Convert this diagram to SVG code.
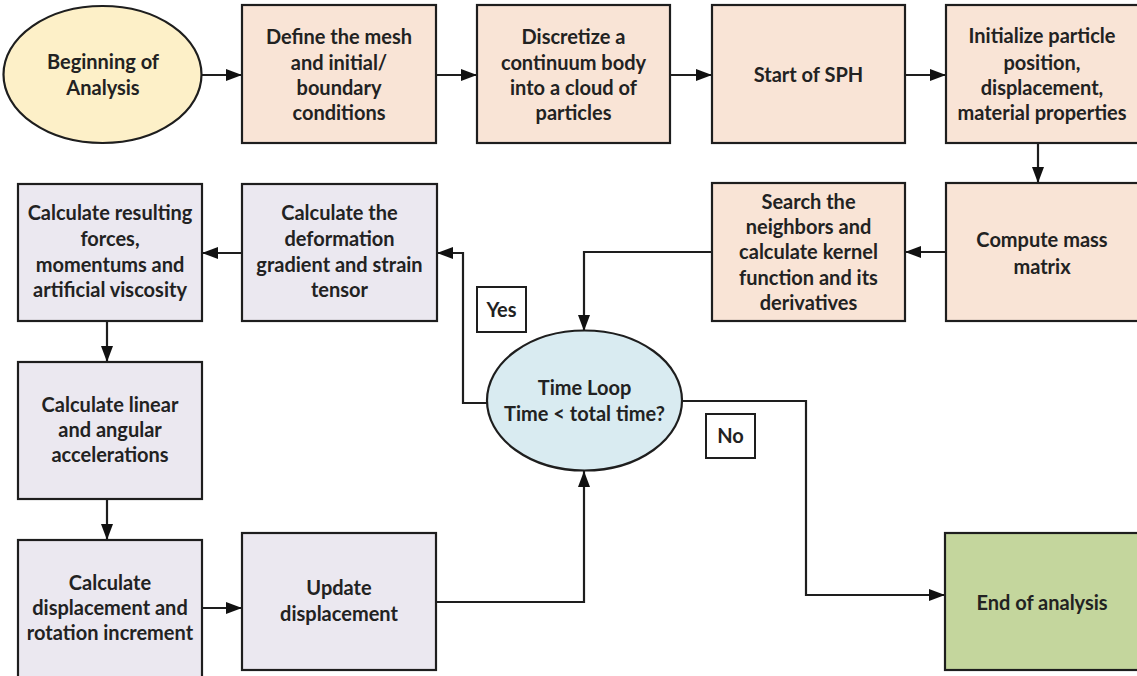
<svg xmlns="http://www.w3.org/2000/svg" width="1137" height="676" viewBox="0 0 1137 676">
<style>
  .n { stroke:#1e1e1e; stroke-width:2.2; }
  .peach { fill:#f9e4d6; }
  .lav { fill:#ebe8f0; }
  .yel { fill:#fdf0c8; }
  .blue { fill:#d9ebf1; }
  .green { fill:#c4d69d; }
  .lbl { fill:#ffffff; stroke:#1e1e1e; stroke-width:2; }
  text { font-family:"Lato","Liberation Sans",sans-serif; font-weight:bold; font-size:20px; fill:#222; text-anchor:middle; }
  .c { fill:none; stroke:#1e1e1e; stroke-width:2.2; }
</style>
<defs>
  <marker id="ah" viewBox="0 0 16 12" refX="16" refY="6" markerWidth="16" markerHeight="12" markerUnits="userSpaceOnUse" orient="auto">
    <path d="M0,0 L16,6 L0,12 Z" fill="#111"/>
  </marker>
</defs>
<rect width="1137" height="676" fill="#ffffff"/>

<g id="connectors">
  <line class="c" x1="202" y1="75" x2="242" y2="75" marker-end="url(#ah)"/>
  <line class="c" x1="436" y1="75" x2="477" y2="75" marker-end="url(#ah)"/>
  <line class="c" x1="670" y1="75" x2="712" y2="75" marker-end="url(#ah)"/>
  <line class="c" x1="905" y1="75" x2="946" y2="75" marker-end="url(#ah)"/>
  <line class="c" x1="1038" y1="143" x2="1038" y2="183" marker-end="url(#ah)"/>
  <line class="c" x1="946" y1="252" x2="905" y2="252" marker-end="url(#ah)"/>
  <polyline class="c" points="712,252 584,252 584,331" marker-end="url(#ah)"/>
  <polyline class="c" points="487,403 463,403 463,253 437,253" marker-end="url(#ah)"/>
  <line class="c" x1="242" y1="253" x2="202" y2="253" marker-end="url(#ah)"/>
  <line class="c" x1="107" y1="321" x2="107" y2="362" marker-end="url(#ah)"/>
  <line class="c" x1="107" y1="499" x2="107" y2="540" marker-end="url(#ah)"/>
  <line class="c" x1="202" y1="608" x2="242" y2="608" marker-end="url(#ah)"/>
  <polyline class="c" points="436,602 584,602 584,471" marker-end="url(#ah)"/>
  <polyline class="c" points="682,401 806,401 806,595 945,595" marker-end="url(#ah)"/>
</g>

<g id="beginning">
  <ellipse class="n yel" cx="102.5" cy="74.5" rx="99" ry="68.5"/>
  <text x="103" y="69">Beginning of</text>
  <text x="103" y="95">Analysis</text>
</g>
<g id="define">
  <rect class="n peach" x="242" y="5" width="194" height="138"/>
  <text x="339" y="44">Define the mesh</text>
  <text x="339" y="70">and initial/</text>
  <text x="339" y="95">boundary</text>
  <text x="339" y="120">conditions</text>
</g>
<g id="discretize">
  <rect class="n peach" x="477" y="5" width="193" height="138"/>
  <text x="573.5" y="44">Discretize a</text>
  <text x="573.5" y="70">continuum body</text>
  <text x="573.5" y="95">into a cloud of</text>
  <text x="573.5" y="120">particles</text>
</g>
<g id="start-sph">
  <rect class="n peach" x="712" y="5" width="193" height="138"/>
  <text x="808.5" y="82">Start of SPH</text>
</g>
<g id="initialize">
  <rect class="n peach" x="946" y="5" width="195" height="138"/>
  <text x="1042" y="43">Initialize particle</text>
  <text x="1042" y="70">position,</text>
  <text x="1042" y="95">displacement,</text>
  <text x="1042" y="120">material properties</text>
</g>
<g id="mass-matrix">
  <rect class="n peach" x="946" y="183" width="195" height="138"/>
  <text x="1042" y="247">Compute mass</text>
  <text x="1042" y="274">matrix</text>
</g>
<g id="search">
  <rect class="n peach" x="712" y="183" width="193" height="138"/>
  <text x="808.5" y="209">Search the</text>
  <text x="808.5" y="234">neighbors and</text>
  <text x="808.5" y="259">calculate kernel</text>
  <text x="808.5" y="285">function and its</text>
  <text x="808.5" y="310">derivatives</text>
</g>
<g id="time-loop">
  <ellipse class="n blue" cx="584.5" cy="400.5" rx="97.5" ry="70"/>
  <text x="584.5" y="395">Time Loop</text>
  <text x="584.5" y="421">Time &lt; total time?</text>
</g>
<g id="yes-label">
  <rect class="lbl" x="477" y="287" width="49" height="45"/>
  <text x="501.5" y="317">Yes</text>
</g>
<g id="no-label">
  <rect class="lbl" x="706" y="414" width="49" height="44"/>
  <text x="730.5" y="443">No</text>
</g>
<g id="deformation">
  <rect class="n lav" x="242" y="184" width="195" height="137"/>
  <text x="339.5" y="220">Calculate the</text>
  <text x="339.5" y="246">deformation</text>
  <text x="339.5" y="272">gradient and strain</text>
  <text x="339.5" y="297">tensor</text>
</g>
<g id="forces">
  <rect class="n lav" x="18" y="184" width="184" height="137"/>
  <text x="110" y="220">Calculate resulting</text>
  <text x="110" y="246">forces,</text>
  <text x="110" y="272">momentums and</text>
  <text x="110" y="297">artificial viscosity</text>
</g>
<g id="accelerations">
  <rect class="n lav" x="18" y="362" width="184" height="137"/>
  <text x="110" y="412">Calculate linear</text>
  <text x="110" y="437">and angular</text>
  <text x="110" y="462">accelerations</text>
</g>
<g id="increment">
  <rect class="n lav" x="18" y="540" width="184" height="145"/>
  <text x="110" y="590">Calculate</text>
  <text x="110" y="615">displacement and</text>
  <text x="110" y="640">rotation increment</text>
</g>
<g id="update">
  <rect class="n lav" x="242" y="533" width="194" height="137"/>
  <text x="339" y="595">Update</text>
  <text x="339" y="621">displacement</text>
</g>
<g id="end">
  <rect class="n green" x="945" y="533" width="196" height="137"/>
  <text x="1042" y="610">End of analysis</text>
</g>
</svg>
